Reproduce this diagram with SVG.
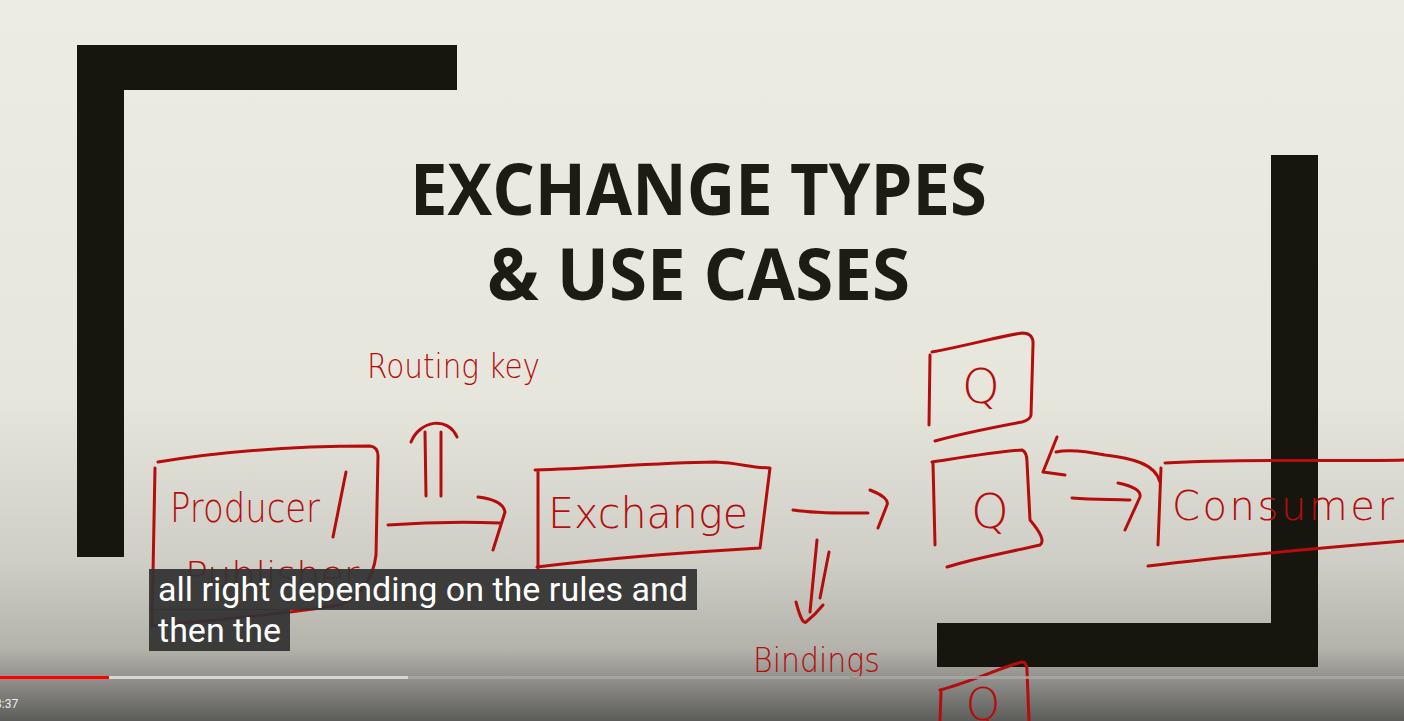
<svg xmlns="http://www.w3.org/2000/svg" width="1404" height="721" viewBox="0 0 1404 721">
<defs>
<linearGradient id="bg" x1="0" y1="0" x2="0" y2="1">
<stop offset="0" stop-color="#edece3"/>
<stop offset="0.55" stop-color="#e7e6dd"/>
<stop offset="0.78" stop-color="#cfcec6"/>
<stop offset="0.9" stop-color="#b3b2ab"/>
<stop offset="0.95" stop-color="#8a8985"/>
<stop offset="1" stop-color="#5c5c5a"/>
</linearGradient>
<style>
.bar{fill:#16160f}
.ink{fill:none;stroke:#b50d0d;stroke-width:3;stroke-linecap:round;stroke-linejoin:round}
.hand{fill:#b50d0d;font-family:"DejaVu Sans",sans-serif;font-weight:300}
.title{fill:#1c1c14;font-family:"Open Sans",sans-serif;font-weight:700;font-size:72px}
.cap{fill:#ffffff;font-family:Roboto,sans-serif;font-size:33px}
</style>
</defs>
<rect x="0" y="0" width="1404" height="721" fill="url(#bg)"/>
<g id="frame">
<rect class="bar" x="77" y="45" width="380" height="45"/>
<rect class="bar" x="77" y="45" width="47" height="512"/>
<rect class="bar" x="1271" y="155" width="47" height="512"/>
<rect class="bar" x="937" y="623" width="381" height="44"/>
</g>
<g id="title">
<text class="title" x="410" y="215" textLength="577" lengthAdjust="spacingAndGlyphs">EXCHANGE TYPES</text>
<text class="title" x="487" y="300" textLength="423" lengthAdjust="spacingAndGlyphs">&amp; USE CASES</text>
</g>
<g id="routing-key">
<text class="hand" x="367" y="378" font-size="34" textLength="173" lengthAdjust="spacingAndGlyphs">Routing key</text>
</g>
<g id="producer">
<path class="ink" d="M158,462 C230,450 300,446 370,446 Q378,447 378,456 L376,555 Q372,590 340,605 C280,615 210,620 152,626 M155,468 L152,626"/>
<text class="hand" x="170" y="522" font-size="40" textLength="150" lengthAdjust="spacingAndGlyphs">Producer</text>
<path class="ink" d="M346,472 L333,537"/>
<text class="hand" x="185" y="588" font-size="38">Publisher</text>
</g>
<g id="exchange">
<path class="ink" d="M535,470 C600,468 650,463 715,462 C740,463 752,468 770,468 L760,548 C690,552 610,558 537,567 M538,470 L538,568"/>
<text class="hand" x="548" y="528" font-size="42" textLength="200" lengthAdjust="spacingAndGlyphs">Exchange</text>
</g>
<g id="bindings">
<text class="hand" x="753" y="672" font-size="34" textLength="127" lengthAdjust="spacingAndGlyphs">Bindings</text>
</g>
<g id="queue-1">
<path class="ink" d="M932,352 C970,345 1000,336 1022,333 Q1034,333 1033,345 L1031,415 Q1030,420 1022,422 C990,428 960,434 935,441 M930,355 L929,425"/>
<text class="hand" x="981" y="403" font-size="48" text-anchor="middle">Q</text>
</g>
<g id="queue-2">
<path class="ink" d="M932,462 C965,457 995,452 1022,450 Q1027,452 1027,462 L1030,520 Q1047,540 1040,545 C1010,552 975,558 947,567 M933,463 L935,545"/>
<text class="hand" x="990" y="528" font-size="48" text-anchor="middle">Q</text>
</g>
<g id="queue-3">
<path class="ink" d="M940,690 C970,682 1000,668 1022,662 Q1027,662 1027,670 L1029,721 M941,692 L940,721"/>
<text class="hand" x="983" y="720" font-size="44" text-anchor="middle">Q</text>
</g>
<g id="consumer">
<path class="ink" d="M1165,463 C1250,458 1330,462 1404,460 M1161,468 L1158,545 M1148,566 C1230,556 1320,548 1404,541"/>
<text class="hand" x="1172" y="520" font-size="40" textLength="222" lengthAdjust="spacing">Consumer</text>
</g>
<g id="connectors">
<path class="ink" d="M426,496 L425,432 M441,496 L441,432 M411,442 C420,420 448,416 457,437"/>
<path class="ink" d="M388,525 C430,522 470,522 500,523 M478,497 Q503,500 505,512 L493,550"/>
<path class="ink" d="M793,510 C820,514 848,513 868,513 M870,490 Q890,498 887,505 L878,528"/>
<path class="ink" d="M817,540 L810,612 M829,552 L820,598 M796,602 Q802,625 806,622 Q815,615 823,605"/>
<path class="ink" d="M1072,498 C1095,500 1115,499 1130,500 M1118,483 Q1142,488 1140,497 L1125,530"/>
<path class="ink" d="M1160,482 C1155,463 1130,458 1105,455 C1080,450 1065,450 1056,452 M1057,437 L1043,472 L1065,475"/>
</g>
<g id="caption">
<rect x="149" y="569" width="548" height="41" fill="#333333" fill-opacity="0.94"/>
<rect x="149" y="609" width="141" height="42" fill="#333333" fill-opacity="0.94"/>
<text class="cap" x="158" y="601" textLength="530" lengthAdjust="spacingAndGlyphs">all right depending on the rules and</text>
<text class="cap" x="158" y="642" textLength="123" lengthAdjust="spacingAndGlyphs">then the</text>
</g>
<g id="player">
<rect x="0" y="676" width="1404" height="3" fill="#a9a9a6" fill-opacity="0.8"/>
<rect x="109" y="676" width="299" height="3" fill="#d6d6d3"/>
<rect x="0" y="676" width="109" height="3" fill="#ff0000"/>
<text x="-5" y="708" fill="#eeeeee" font-family="Roboto,sans-serif" font-size="12">3:37</text>
</g>
</svg>
